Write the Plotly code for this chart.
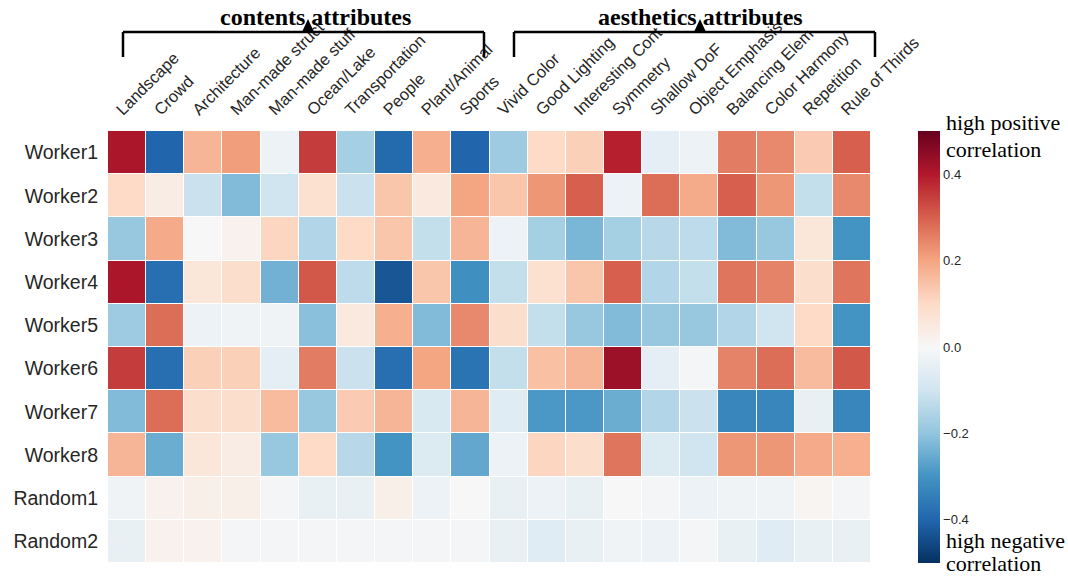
import plotly.graph_objects as go

W, H = 1068, 576

content_attrs = ["Landscape", "Crowd", "Architecture", "Man-made struct", "Man-made stuff",
                 "Ocean/Lake", "Transportation", "People", "Plant/Animal", "Sports"]
aesthetic_attrs = ["Vivid Color", "Good Lighting", "Interesting Cont", "Symmetry", "Shallow DoF",
                   "Object Emphasis", "Balancing Elem", "Color Harmony", "Repetition", "Rule of Thirds"]
columns = content_attrs + aesthetic_attrs
rows = ["Worker1", "Worker2", "Worker3", "Worker4", "Worker5",
        "Worker6", "Worker7", "Worker8", "Random1", "Random2"]

worker1 = [0.41, -0.40, 0.17, 0.21, -0.03, 0.35, -0.17, -0.39, 0.18, -0.40,
           -0.18, 0.10, 0.12, 0.39, -0.05, -0.03, 0.26, 0.24, 0.13, 0.30]
worker2 = [0.10, 0.04, -0.11, -0.22, -0.10, 0.08, -0.11, 0.14, 0.05, 0.20,
           0.14, 0.22, 0.30, -0.03, 0.28, 0.19, 0.30, 0.22, -0.12, 0.24]
worker3 = [-0.19, 0.19, 0.00, 0.02, 0.11, -0.15, 0.10, 0.14, -0.12, 0.17,
           -0.03, -0.17, -0.23, -0.17, -0.14, -0.13, -0.22, -0.19, 0.06, -0.30]
worker4 = [0.41, -0.38, 0.06, 0.09, -0.24, 0.31, -0.13, -0.43, 0.14, -0.31,
           -0.12, 0.08, 0.14, 0.30, -0.15, -0.12, 0.27, 0.25, 0.09, 0.27]
worker5 = [-0.18, 0.28, -0.03, -0.02, -0.02, -0.21, 0.05, 0.18, -0.22, 0.24,
           0.09, -0.12, -0.19, -0.22, -0.19, -0.19, -0.15, -0.10, 0.10, -0.30]
worker6 = [0.35, -0.38, 0.12, 0.12, -0.05, 0.26, -0.11, -0.38, 0.20, -0.37,
           -0.12, 0.15, 0.17, 0.43, -0.05, -0.01, 0.25, 0.28, 0.16, 0.31]
worker7 = [-0.22, 0.28, 0.09, 0.09, 0.16, -0.19, 0.13, 0.17, -0.08, 0.17,
           -0.06, -0.29, -0.29, -0.25, -0.15, -0.11, -0.33, -0.33, -0.04, -0.33]
worker8 = [0.17, -0.25, 0.06, 0.04, -0.19, 0.10, -0.14, -0.30, -0.07, -0.26,
           -0.03, 0.11, 0.09, 0.27, -0.07, -0.10, 0.22, 0.22, 0.19, 0.18]
random1 = [-0.02, 0.02, 0.03, 0.03, -0.01, -0.04, -0.04, 0.03, -0.03, 0.00,
           -0.04, -0.03, -0.04, 0.00, -0.01, -0.03, -0.02, -0.02, 0.01, -0.01]
random2 = [-0.04, 0.02, 0.02, -0.01, -0.01, -0.01, -0.01, -0.01, -0.01, -0.01,
           -0.04, -0.06, -0.04, -0.02, -0.03, -0.01, -0.04, -0.06, -0.04, -0.04]
values = [worker1, worker2, worker3, worker4, worker5,
          worker6, worker7, worker8, random1, random2]

colorbar_ticks = [-0.4, -0.2, 0.0, 0.2, 0.4]
colorbar_labels = ["\u22120.4", "\u22120.2", "0.0", "0.2", "0.4"]
group_titles = ["contents attributes", "aesthetics attributes"]

rdbu = ["#053061", "#2166ac", "#4393c3", "#92c5de", "#d1e5f0", "#f7f7f7",
        "#fddbc7", "#f4a582", "#d6604d", "#b2182b", "#67001f"]
colorscale = [[i / 10, c] for i, c in enumerate(rdbu)]

# plot area in pixels
L, R, T, B = 108, 871, 131, 563
def px(x):
    return (x - L) / (R - L)
def py(y):
    return (B - y) / (B - T)

fig = go.Figure(go.Heatmap(
    z=values, x=columns, y=rows,
    colorscale=colorscale, zmin=-0.5, zmax=0.5,
    xgap=1, ygap=1,
    colorbar=dict(
        xref="paper", yref="paper",
        x=px(918), xanchor="left", y=1, yanchor="top",
        xpad=0, ypad=0,
        len=1, lenmode="fraction", thickness=22, thicknessmode="pixels",
        outlinewidth=0, tickvals=colorbar_ticks, ticktext=colorbar_labels,
        ticks="",
        tickfont=dict(family="Liberation Sans, Arial", size=13, color="#262626"),
    ),
    hoverongaps=False,
))

fig.update_layout(
    width=W, height=H, autosize=False,
    margin=dict(l=L, r=W - R, t=T, b=H - B, pad=0, autoexpand=False),
    paper_bgcolor="white", plot_bgcolor="white",
    showlegend=False,
    xaxis=dict(side="top", tickangle=-45, showgrid=False, zeroline=False, ticks="",
               automargin=False,
               tickfont=dict(family="Liberation Sans, Arial", size=16.5, color="#262626"),
               ticklabelstandoff=8, ticklabelshift=-10),
    yaxis=dict(autorange="reversed", showgrid=False, zeroline=False, ticks="",
               automargin=False,
               tickfont=dict(family="Liberation Sans, Arial", size=19.5, color="#262626"),
               ticklabelstandoff=9),
)

line = dict(color="black", width=2.5)
brackets = [(123, 484, 308), (514, 875, 700)]
title_centers = [315, 700]
for (x0, x1, tx), title, tc in zip(brackets, group_titles, title_centers):
    fig.add_shape(type="line", xref="paper", yref="paper",
                  x0=px(x0), x1=px(x1), y0=py(32), y1=py(32), line=line)
    fig.add_shape(type="line", xref="paper", yref="paper",
                  x0=px(x0), x1=px(x0), y0=py(32), y1=py(57), line=line)
    fig.add_shape(type="line", xref="paper", yref="paper",
                  x0=px(x1), x1=px(x1), y0=py(32), y1=py(57), line=line)
    fig.add_annotation(text="<b>%s</b>" % title, xref="paper", yref="paper",
                       x=px(tc), y=py(17), xanchor="center", yanchor="middle",
                       showarrow=False,
                       font=dict(family="Liberation Serif, Times New Roman", size=24, color="black"))
    fig.add_shape(type="path", xref="paper", yref="paper",
                  path="M %f %f L %f %f L %f %f Z" % (px(tx - 6), py(32), px(tx + 6), py(32), px(tx), py(19)),
                  fillcolor="black", line=dict(color="black", width=0))

side_notes = [("high positive", 123), ("correlation", 149),
              ("high negative", 540), ("correlation", 563)]
for txt, yy in side_notes:
    fig.add_annotation(text=txt, xref="paper", yref="paper",
                       x=px(944), y=py(yy), xanchor="left", yanchor="middle", align="left",
                       showarrow=False,
                       font=dict(family="Liberation Serif, Times New Roman", size=22, color="black"))

fig.write_html("out.html", config={"displayModeBar": False},
               post_script="document.body.style.margin='0';document.body.style.padding='0';")
